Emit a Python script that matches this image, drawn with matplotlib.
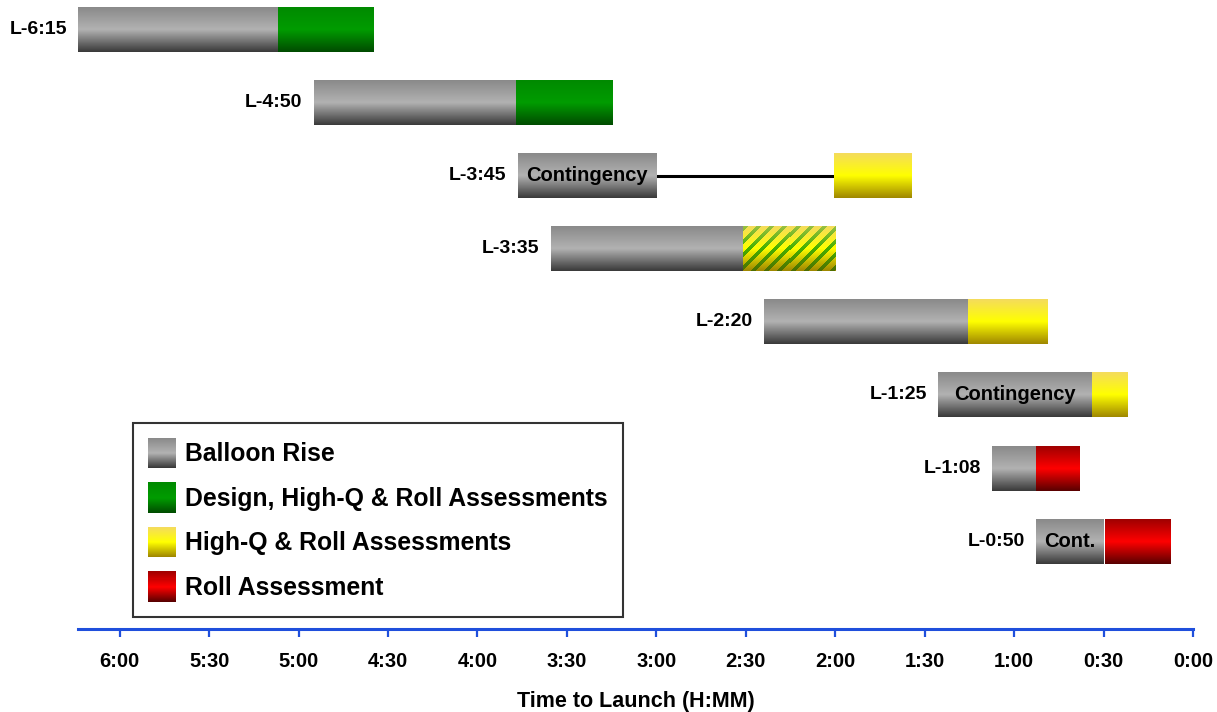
import numpy as np
import matplotlib
matplotlib.use("Agg")
import matplotlib.pyplot as plt
from matplotlib.patches import Patch, Rectangle
from matplotlib.legend_handler import HandlerBase
from matplotlib.colors import to_rgb

plt.rcParams['font.family'] = ['Liberation Sans', 'DejaVu Sans']
plt.rcParams['font.weight'] = 'bold'

# ---------------- data (minutes before launch) ----------------
row_labels = ["L-6:15", "L-4:50", "L-3:45", "L-3:35", "L-2:20", "L-1:25", "L-1:08", "L-0:50"]
balloon_start = [374, 295, 226.5, 215.5, 144, 85.5, 67.5, 52.5]
balloon_end = [307, 227, 180, 151, 75.5, 34, 52.5, 30]
assess_start = [307, 227, 120.5, 151, 75.5, 34, 52.5, 29.5]
assess_end = [275, 194.5, 94.5, 120, 49, 22, 38, 7.5]
assess_type = ["design", "design", "highq", "highq_hatch", "highq", "highq", "roll", "roll"]
balloon_note = ["", "", "Contingency", "", "", "Contingency", "", "Cont."]

tick_minutes = [360, 330, 300, 270, 240, 210, 180, 150, 120, 90, 60, 30, 0]
tick_labels = ["6:00", "5:30", "5:00", "4:30", "4:00", "3:30", "3:00",
               "2:30", "2:00", "1:30", "1:00", "0:30", "0:00"]
x_max = 374

legend_labels = ["Balloon Rise", "Design, High-Q & Roll Assessments",
                 "High-Q & Roll Assessments", "Roll Assessment"]

# ---------------- styles ----------------
STOPS = {
    "balloon": [(0.0, '#8a8a8a'), (0.5, '#b2b2b2'), (1.0, '#3a3a3a')],
    "design": [(0.0, '#008a00'), (0.5, '#009c00'), (1.0, '#004c00')],
    "highq": [(0.0, '#f4dc5c'), (0.5, '#ffff00'), (1.0, '#a08800')],
    "roll": [(0.0, '#a00000'), (0.5, '#ff0000'), (1.0, '#5a0000')],
}
STRIPE_STOPS = [(0.0, '#98c040'), (0.5, '#46b000'), (1.0, '#4e6e00')]
AXIS_BLUE = '#1f4fdc'
BAR_H = 0.615


def gradient(stops, n):
    pos = np.array([s[0] for s in stops])
    cols = np.array([to_rgb(s[1]) for s in stops])
    t = np.linspace(0, 1, n)
    return np.stack([np.interp(t, pos, cols[:, k]) for k in range(3)], axis=-1)


class GradHandler(HandlerBase):
    def __init__(self, stops):
        super().__init__()
        self.stops = stops

    def create_artists(self, legend, orig_handle, xdescent, ydescent,
                       width, height, fontsize, trans):
        n = 30
        cols = gradient(self.stops, n)
        arts = []
        for i in range(n):
            y0 = -ydescent + height * (1 - (i + 1) / n)
            r = Rectangle((-xdescent, y0), width, height / n * 1.05,
                          facecolor=cols[i], edgecolor='none', lw=0,
                          transform=trans)
            arts.append(r)
        return arts


fig = plt.figure(figsize=(12.17, 7.12), dpi=100)
ax = fig.add_axes([78 / 1217, 1 - 629 / 712, 1115 / 1217, 629 / 712])
ax.set_xlim(x_max, 0)
ax.set_ylim(8.2, -0.4)

y = np.arange(len(row_labels))
b_w = np.array(balloon_end) - np.array(balloon_start)
a_w = np.array(assess_end) - np.array(assess_start)

b_bars = ax.barh(y, b_w, left=balloon_start, height=BAR_H,
                 color=gradient(STOPS["balloon"], 3)[1], lw=0, zorder=2)
mid_cols = [gradient(STOPS["highq" if t.startswith("highq") else t], 3)[1] for t in assess_type]
a_bars = ax.barh(y, a_w, left=assess_start, height=BAR_H,
                 color=mid_cols, lw=0, zorder=2)


def fill_gradient(patch, stops):
    x0, y0 = patch.get_x(), patch.get_y()
    w, h = patch.get_width(), patch.get_height()
    img = gradient(stops, 64)[:, None, :]
    im = ax.imshow(img, extent=(x0, x0 + w, y0 + h, y0), aspect='auto',
                   interpolation='bilinear', zorder=3)
    im.set_clip_path(patch)


def fill_hatched(patch, stops, stripe_stops):
    x0, y0 = patch.get_x(), patch.get_y()
    w, h = patch.get_width(), patch.get_height()
    p0 = ax.transData.transform((x0, y0))
    p1 = ax.transData.transform((x0 + w, y0 + h))
    W = int(round(abs(p1[0] - p0[0])))
    H = int(round(abs(p1[1] - p0[1])))
    base = np.repeat(gradient(stops, H)[:, None, :], W, axis=1)
    stripe = np.repeat(gradient(stripe_stops, H)[:, None, :], W, axis=1)
    rr, cc = np.mgrid[0:H, 0:W]
    mask = ((cc + rr) % 13) < 5
    img = np.where(mask[..., None], stripe, base)
    left, right = min(x0, x0 + w), max(x0, x0 + w)
    im = ax.imshow(img, extent=(right, left, y0 + h, y0), aspect='auto',
                   interpolation='nearest', zorder=3)
    im.set_clip_path(patch)


for p in b_bars.patches:
    fill_gradient(p, STOPS["balloon"])
for p, t in zip(a_bars.patches, assess_type):
    if t == "highq_hatch":
        fill_hatched(p, STOPS["highq"], STRIPE_STOPS)
    else:
        fill_gradient(p, STOPS[t])

# connector lines where there is a gap between balloon and assessment
for yi, be, as_ in zip(y, balloon_end, assess_start):
    if be - as_ > 5:
        ax.plot([be, as_], [yi, yi], color='black', lw=2.2, zorder=1.5)

# row labels and notes
for yi, lab, bs, be, note in zip(y, row_labels, balloon_start, balloon_end, balloon_note):
    ax.annotate(lab, xy=(bs, yi), xytext=(-8, 0), textcoords='offset points',
                ha='right', va='center', fontsize=14, fontweight='bold')
    if note:
        ax.text((bs + be) / 2, yi, note, ha='center', va='center',
                fontsize=14.5, fontweight='bold', zorder=5)

# axes styling
for s in ['left', 'right', 'top']:
    ax.spines[s].set_visible(False)
ax.spines['bottom'].set_color(AXIS_BLUE)
ax.spines['bottom'].set_linewidth(2.2)
ax.set_yticks([])
ax.set_xticks(tick_minutes)
ax.set_xticklabels(tick_labels, fontsize=14.5, fontweight='bold')
ax.tick_params(axis='x', direction='out', length=5.5, width=1.6,
               color=AXIS_BLUE, pad=11)
ax.set_xlabel("Time to Launch (H:MM)", fontsize=15.5, fontweight='bold', labelpad=14.5)
ax.patch.set_visible(False)

# legend
kinds = ["balloon", "design", "highq", "roll"]
handles = [Patch(label=l) for l in legend_labels]
hmap = {h: GradHandler(STOPS[k]) for h, k in zip(handles, kinds)}
leg = ax.legend(handles=handles, handler_map=hmap, loc='lower left',
                bbox_to_anchor=(55 / 1115, 12 / 629), borderaxespad=0,
                fancybox=False, frameon=True, edgecolor='black',
                prop={'size': 17.8, 'weight': 'bold'},
                handlelength=1.1, handleheight=1.5, handletextpad=0.38,
                labelspacing=0.58, borderpad=0.62)
leg.get_frame().set_linewidth(1.5)

fig.savefig("out.png", dpi=100)
